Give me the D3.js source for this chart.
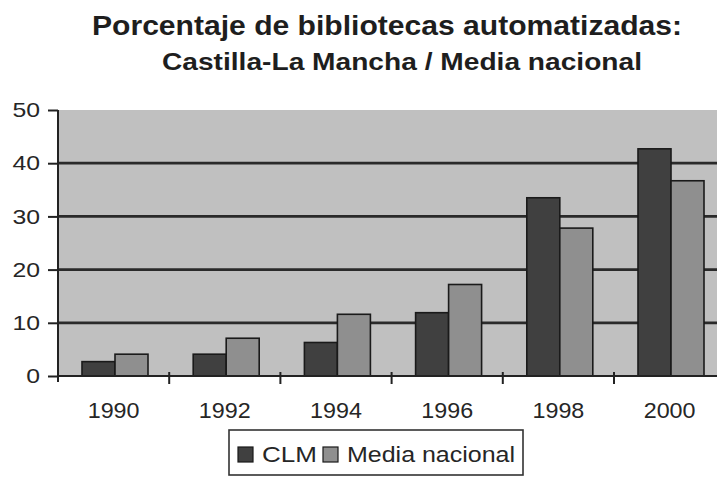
<!DOCTYPE html>
<html>
<head>
<meta charset="utf-8">
<script src="https://cdn.jsdelivr.net/npm/d3@7"></script>
<style>
  html, body { margin: 0; padding: 0; background: #fff; }
  svg { display: block; font-family: "Liberation Sans", Arial, sans-serif; }
</style>
</head>
<body>
<svg id="chart" width="717" height="480"></svg>
<script>
// ---- data ----
const years   = ['1990', '1992', '1994', '1996', '1998', '2000'];
const series  = ['CLM', 'Media nacional'];
const clm     = [2.7, 4.1, 6.3, 11.9, 33.5, 42.7];
const nacional = [4.1, 7.1, 11.6, 17.2, 27.8, 36.7];
const yTicks  = [0, 10, 20, 30, 40, 50];
const titleLines = ['Porcentaje de bibliotecas automatizadas:', 'Castilla-La Mancha / Media nacional'];

const COLOR = { 'CLM': '#404040', 'Media nacional': '#8f8f8f' };
const TEXT = '#262626';

const svg = d3.select('#chart');
const W = 717;

// the scanned original is a bit wider than normal Arial: stretch text horizontally
function stretch(sel, k) {
  sel.each(function () {
    const len = this.getComputedTextLength();
    d3.select(this).attr('textLength', len * k).attr('lengthAdjust', 'spacingAndGlyphs');
  });
}

// plot area (runs off the right edge like the original scan)
const plotLeft = 58, plotTop = 110, plotBottom = 376;
const band = 111.2;

const x = d3.scaleBand().domain(years).range([plotLeft, plotLeft + band * years.length]);
const x1 = d3.scaleBand().domain(series).range([24, 90]);
const y = d3.scaleLinear().domain([0, 50]).range([plotBottom, plotTop]);

// title
svg.append('text')
  .attr('x', 387).attr('y', 35)
  .attr('text-anchor', 'middle')
  .attr('font-size', 27).attr('font-weight', 'bold').attr('fill', '#1e1e1e')
  .attr('textLength', 590).attr('lengthAdjust', 'spacingAndGlyphs')
  .text(titleLines[0]);
svg.append('text')
  .attr('x', 402).attr('y', 70)
  .attr('text-anchor', 'middle')
  .attr('font-size', 24).attr('font-weight', 'bold').attr('fill', '#1e1e1e')
  .attr('textLength', 480).attr('lengthAdjust', 'spacingAndGlyphs')
  .text(titleLines[1]);

// plot background
svg.append('rect')
  .attr('x', plotLeft).attr('y', plotTop)
  .attr('width', W - plotLeft).attr('height', plotBottom - plotTop)
  .attr('fill', '#c0c0c0');

// gridlines
svg.append('g')
  .selectAll('line')
  .data(yTicks.filter(d => d > 0 && d < 50))
  .enter().append('line')
  .attr('x1', plotLeft).attr('x2', W)
  .attr('y1', d => y(d)).attr('y2', d => y(d))
  .attr('stroke', '#2a2a2a')
  .attr('stroke-width', 2.8);

// bars
const rows = years.map((yr, i) => ({ year: yr, values: [
  { key: 'CLM', value: clm[i] },
  { key: 'Media nacional', value: nacional[i] }
]}));

const groups = svg.append('g').selectAll('g')
  .data(rows)
  .enter().append('g')
  .attr('transform', d => `translate(${x(d.year)},0)`);

groups.selectAll('rect')
  .data(d => d.values)
  .enter().append('rect')
  .attr('x', d => x1(d.key))
  .attr('y', d => y(d.value))
  .attr('width', x1.bandwidth())
  .attr('height', d => plotBottom - y(d.value))
  .attr('fill', d => COLOR[d.key])
  .attr('stroke', '#1a1a1a')
  .attr('stroke-width', 1.6);

// y axis
const yAxis = svg.append('g')
  .attr('transform', `translate(${plotLeft},0)`)
  .call(d3.axisLeft(y).tickValues(yTicks).tickSize(10).tickPadding(8));
yAxis.select('.domain').remove();
yAxis.selectAll('.tick line').attr('stroke', '#222').attr('stroke-width', 2);
yAxis.selectAll('.tick text')
  .attr('font-size', 21).attr('fill', TEXT)
  .attr('font-family', '"Liberation Sans", Arial, sans-serif')
  .call(stretch, 1.18);
svg.append('line')
  .attr('x1', plotLeft).attr('x2', plotLeft)
  .attr('y1', plotTop).attr('y2', plotBottom + 6)
  .attr('stroke', '#222').attr('stroke-width', 2);

// x axis
const xAxis = svg.append('g')
  .attr('transform', `translate(0,${plotBottom})`)
  .call(d3.axisBottom(x).tickSize(0).tickPadding(26));
xAxis.select('.domain').remove();
xAxis.selectAll('.tick text')
  .attr('font-size', 22).attr('fill', TEXT)
  .attr('font-family', '"Liberation Sans", Arial, sans-serif')
  .call(stretch, 1.06);
svg.append('line')
  .attr('x1', plotLeft).attr('x2', W)
  .attr('y1', plotBottom).attr('y2', plotBottom)
  .attr('stroke', '#222').attr('stroke-width', 2);
// category separators
svg.append('g').selectAll('line')
  .data(years.slice(1))
  .enter().append('line')
  .attr('x1', d => x(d)).attr('x2', d => x(d))
  .attr('y1', plotBottom - 4).attr('y2', plotBottom + 8)
  .attr('stroke', '#222').attr('stroke-width', 2);

// legend
const legend = svg.append('g');
legend.append('rect')
  .attr('x', 229).attr('y', 430)
  .attr('width', 294).attr('height', 45)
  .attr('fill', '#fff')
  .attr('stroke', '#333').attr('stroke-width', 1.6);
const legendX = [238, 323];
const legendW = [55, 168];
series.forEach((s, i) => {
  legend.append('rect')
    .attr('x', legendX[i]).attr('y', 447)
    .attr('width', 15).attr('height', 15)
    .attr('fill', COLOR[s])
    .attr('stroke', '#1a1a1a').attr('stroke-width', 1.2);
  legend.append('text')
    .attr('x', legendX[i] + 24).attr('y', 462)
    .attr('font-size', 22).attr('fill', TEXT)
    .attr('textLength', legendW[i]).attr('lengthAdjust', 'spacingAndGlyphs')
    .text(s);
});
</script>
</body>
</html>
